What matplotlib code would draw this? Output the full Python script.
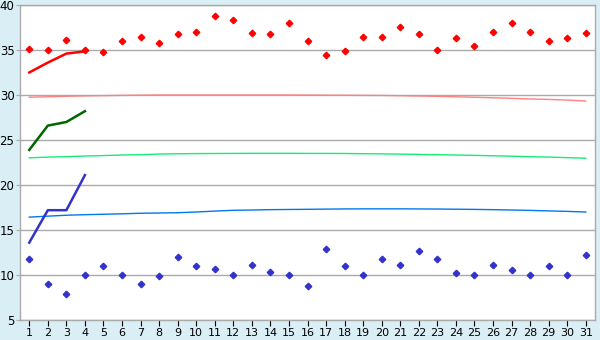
import numpy as np
import matplotlib
matplotlib.use("Agg")
import matplotlib.pyplot as plt

# ---- data ----
days = list(range(1, 32))

red_points = [35.1, 35.0, 36.1, 35.0, 34.8, 36.0, 36.4, 35.8, 36.8, 37.0,
              38.8, 38.3, 36.9, 36.8, 38.0, 36.0, 34.4, 34.9, 36.4, 36.4,
              37.6, 36.8, 35.0, 36.3, 35.4, 37.0, 38.0, 37.0, 36.0, 36.3, 36.9]

blue_points = [11.8, 9.0, 7.9, 10.0, 11.0, 10.0, 9.0, 9.9, 12.0, 11.0,
               10.7, 10.0, 11.1, 10.3, 10.0, 8.8, 12.9, 11.0, 10.0, 11.8,
               11.1, 12.7, 11.8, 10.2, 10.0, 11.1, 10.6, 10.0, 11.0, 10.0, 12.2]

pink_trend = [29.76, 29.8, 29.86, 29.9, 29.93, 29.96, 29.98, 30.0, 30.0, 30.0,
              30.0, 30.0, 30.0, 30.0, 30.0, 29.99, 29.98, 29.97, 29.96, 29.95,
              29.92, 29.89, 29.85, 29.8, 29.75, 29.69, 29.63, 29.56, 29.51, 29.44, 29.33]

green_trend = [23.02, 23.1, 23.15, 23.22, 23.27, 23.33, 23.37, 23.44, 23.47, 23.49,
               23.5, 23.51, 23.52, 23.52, 23.52, 23.51, 23.51, 23.5, 23.48, 23.46,
               23.43, 23.4, 23.37, 23.33, 23.29, 23.25, 23.2, 23.15, 23.1, 23.04, 22.98]

blue_trend = [16.43, 16.54, 16.64, 16.7, 16.75, 16.8, 16.86, 16.89, 16.92, 17.0,
              17.1, 17.19, 17.22, 17.26, 17.28, 17.3, 17.32, 17.34, 17.35, 17.35,
              17.35, 17.34, 17.33, 17.31, 17.29, 17.26, 17.22, 17.18, 17.12, 17.07, 17.0]

first_days = [1, 2, 3, 4]
red_line = [32.5, 33.6, 34.6, 34.85]
green_line = [23.9, 26.6, 27.0, 28.2]
blue_line = [13.6, 17.2, 17.2, 21.1]

yticks = [5, 10, 15, 20, 25, 30, 35, 40]

# ---- figure ----
fig = plt.figure(figsize=(6, 3.4), dpi=100, facecolor="#daeef6")
ax = fig.add_axes([20 / 600, 1 - 320 / 340, 575 / 600, 315 / 340])
ax.set_facecolor("white")

ax.set_xlim(0.5, 31.5)
ax.set_ylim(5, 40)
ax.set_yticks(yticks)
ax.set_xticks(days)
ax.grid(axis="y", color="#aaaaaa", lw=1)
ax.set_axisbelow(True)
for s in ax.spines.values():
    s.set_color("#aaaaaa")
    s.set_linewidth(1)
ax.tick_params(axis="y", length=3, color="#aaaaaa", labelsize=8.5, pad=1)
ax.tick_params(axis="x", length=4, color="black", labelsize=8, pad=2)

# trend lines
ax.plot(days, pink_trend, color="#ff8080", lw=1, zorder=3)
ax.plot(days, green_trend, color="#11ee77", lw=1, zorder=3)
ax.plot(days, blue_trend, color="#0077ee", lw=1, zorder=3)

# first-days lines
ax.plot(first_days, red_line, color="#ff0000", lw=1.8, zorder=4)
ax.plot(first_days, green_line, color="#006600", lw=1.8, zorder=4)
ax.plot(first_days, blue_line, color="#3333cc", lw=1.8, zorder=4)

# daily points
ax.plot(days, red_points, ls="none", marker="D", ms=3.3, color="#ff0000", zorder=5)
ax.plot(days, blue_points, ls="none", marker="D", ms=3.3, color="#3333cc", zorder=5)

fig.savefig("out.png", dpi=100, facecolor=fig.get_facecolor())
